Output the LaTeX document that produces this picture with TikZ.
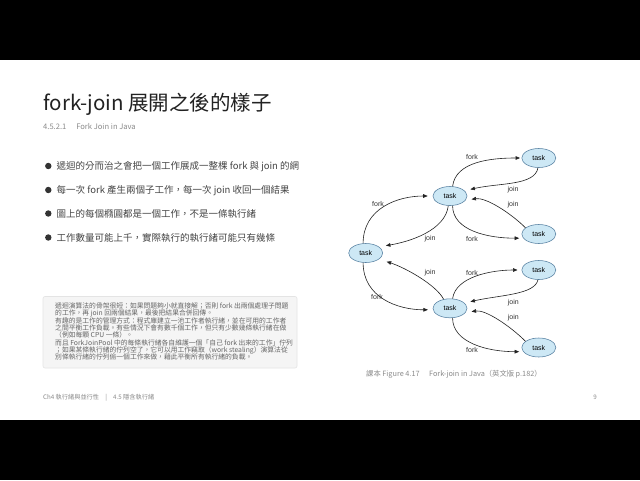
\documentclass[tikz,border=0pt]{standalone}
\usepackage{fontspec}
\setmainfont{Noto Sans CJK TC}
\newfontfamily\arialf{Liberation Sans}
\usetikzlibrary{arrows.meta,shapes.geometric}
\definecolor{titlecol}{HTML}{222222}
\definecolor{subcol}{HTML}{8A8A8A}
\definecolor{bulletcol}{HTML}{444444}
\definecolor{dotcol}{HTML}{333333}
\definecolor{notefill}{HTML}{F5F5F5}
\definecolor{noteborder}{HTML}{E4E4E4}
\definecolor{notetext}{HTML}{666666}
\definecolor{taskfill}{HTML}{CDE8F5}
\definecolor{taskborder}{HTML}{557FA0}
\definecolor{edgecol}{HTML}{222222}
\definecolor{lblcol}{HTML}{333333}
\begin{document}
\begin{tikzpicture}[x=1pt,y=-1pt,
  tasknode/.style={ellipse,draw=taskborder,line width=0.55pt,fill=taskfill,minimum width=34pt,minimum height=19pt,inner sep=0pt,font=\arialf\fontsize{7}{8}\selectfont,text=black},
  edge/.style={draw=edgecol,line width=0.6pt,-{Triangle[length=4.5pt,width=3.6pt]},shorten >=#1},
  edge/.default=2pt,
  lbl/.style={font=\arialf\fontsize{7}{8}\selectfont,text=lblcol,inner sep=0pt},
  bulletline/.style={anchor=base west,inner sep=0pt,font=\fontsize{9.5}{11}\selectfont,text=bulletcol},
  noteline/.style={anchor=base west,inner sep=0pt,font=\fontsize{6.8}{7.4}\selectfont,text=notetext},
  bulletdot/.style={circle,fill=dotcol,inner sep=0pt,minimum size=6.4pt}
]
\useasboundingbox (0,0) rectangle (640,480);
\fill[black] (0,0) rectangle (640,60);
\fill[black] (0,420) rectangle (640,480);
\fill[white] (0,60) rectangle (640,420);

% title
\node[anchor=base west,inner sep=0pt,font=\fontsize{20.5}{23}\selectfont,text=titlecol] (title) at (43,110.8) {fork-join 展開之後的樣子};
\node[anchor=base west,inner sep=0pt,font=\fontsize{7.6}{9}\selectfont,text=subcol] (subtitle) at (43,129.5) {4.5.2.1\hspace{1.3em}Fork Join in Java};

% bullets
\node[bulletdot] (d1) at (48.3,166) {};
\node[bulletdot] (d2) at (48.3,190) {};
\node[bulletdot] (d3) at (48.3,213.5) {};
\node[bulletdot] (d4) at (48.3,237.5) {};
\node[bulletline] (b1) at (56.5,169.4) {遞迴的分而治之會把一個工作展成一整棵 fork 與 join 的網};
\node[bulletline] (b2) at (56.5,193.3) {每一次 fork 產生兩個子工作，每一次 join 收回一個結果};
\node[bulletline] (b3) at (56.5,217.0) {圖上的每個橢圓都是一個工作，不是一條執行緒};
\node[bulletline] (b4) at (56.5,241.0) {工作數量可能上千，實際執行的執行緒可能只有幾條};

% note box
\draw[fill=notefill,draw=noteborder,line width=0.6pt,rounded corners=2pt] (43,296.5) rectangle (297,368);
\node[noteline] (n1) at (55,308.6) {遞迴演算法的骨架很短：如果問題夠小就直接解；否則 fork 出兩個處理子問題};
\node[noteline] (n2) at (55,315.9) {的工作，再 join 回兩個結果，最後把結果合併回傳。};
\node[noteline] (n3) at (55,323.2) {有趣的是工作的管理方式：程式庫建立一池工作者執行緒，並在可用的工作者};
\node[noteline] (n4) at (55,330.5) {之間平衡工作負載。有些情況下會有數千個工作，但只有少數幾條執行緒在做};
\node[noteline] (n5) at (55,337.8) {（例如每顆 CPU 一條）。};
\node[noteline] (n6) at (55,345.1) {而且 ForkJoinPool 中的每條執行緒各自維護一個「自己 fork 出來的工作」佇列};
\node[noteline] (n7) at (55,352.4) {；如果某條執行緒的佇列空了，它可以用工作竊取（work stealing）演算法從};
\node[noteline] (n8) at (55,359.7) {別條執行緒的佇列偷一個工作來做，藉此平衡所有執行緒的負載。};

% graph nodes
\node[tasknode] (L) at (365.7,253) {task};
\node[tasknode] (C1) at (450,196) {task};
\node[tasknode] (TR) at (538.8,158) {task};
\node[tasknode] (R2) at (538.8,234) {task};
\node[tasknode] (C2) at (450,308.3) {task};
\node[tasknode] (BR1) at (538.8,270) {task};
\node[tasknode] (BR2) at (538.8,347.5) {task};

% top subtree
\draw[edge=5pt] (L.105) .. controls +(0,-35) and +(-35,0) .. (C1.west);
\draw[edge=7pt] (C1.260) .. controls +(-3,25) and +(30,-5) .. (L.25);
\draw[edge=1.5pt] (C1.75) .. controls +(3,-25) and +(-30,0) .. (TR.west);
\draw[edge=6pt] (TR.265) .. controls +(-3,18) and +(35,-8) .. (C1.20);
\draw[edge=6pt] (R2.155) .. controls +(-15,-15) and +(20,-3) .. (C1.-15);
\draw[edge=4pt] (C1.285) .. controls +(0,25) and +(-35,0) .. (R2.195);

% bottom subtree
\draw[edge=8pt] (C2.125) .. controls +(-8,-15) and +(25,8) .. (L.-25);
\draw[edge=5pt] (L.255) .. controls +(0,35) and +(-35,0) .. (C2.185);
\draw[edge=4pt] (C2.75) .. controls +(3,-22) and +(-30,0) .. (BR1.west);
\draw[edge=6pt] (BR1.265) .. controls +(-3,15) and +(35,-8) .. (C2.20);
\draw[edge=6pt] (BR2.155) .. controls +(-15,-15) and +(20,-3) .. (C2.-15);
\draw[edge=4pt] (C2.285) .. controls +(0,25) and +(-35,0) .. (BR2.195);

% edge labels
\node[lbl] (lf1) at (378,204) {fork};
\node[lbl] (lj1) at (430,239) {join};
\node[lbl] (lf2) at (472,157) {fork};
\node[lbl] (lj2) at (513,190) {join};
\node[lbl] (lj3) at (513,204.5) {join};
\node[lbl] (lf3) at (472,239) {fork};
\node[lbl] (lj4) at (430,272.5) {join};
\node[lbl] (lf4) at (377,296.7) {fork};
\node[lbl] (lf5) at (472,272.5) {fork};
\node[lbl] (lj5) at (513.3,302.3) {join};
\node[lbl] (lj6) at (513.3,317.7) {join};
\node[lbl] (lf6) at (472,350) {fork};

% caption
\node[anchor=base west,inner sep=0pt,font=\fontsize{7.3}{8}\selectfont,text=subcol] (cap) at (366,376.6) {課本 Figure 4.17\hspace{1.3em}Fork-join in Java（英文版 p.182）};

% footer
\node[anchor=base west,inner sep=0pt,font=\fontsize{6.2}{7}\selectfont,text=subcol] (foot) at (43,399.2) {Ch4 執行緒與並行性\hspace{1em}|\hspace{1em}4.5 隱含執行緒};
\node[anchor=base,inner sep=0pt,font=\fontsize{6.2}{7}\selectfont,text=subcol] (pg) at (595,399.2) {9};
\end{tikzpicture}
\end{document}
